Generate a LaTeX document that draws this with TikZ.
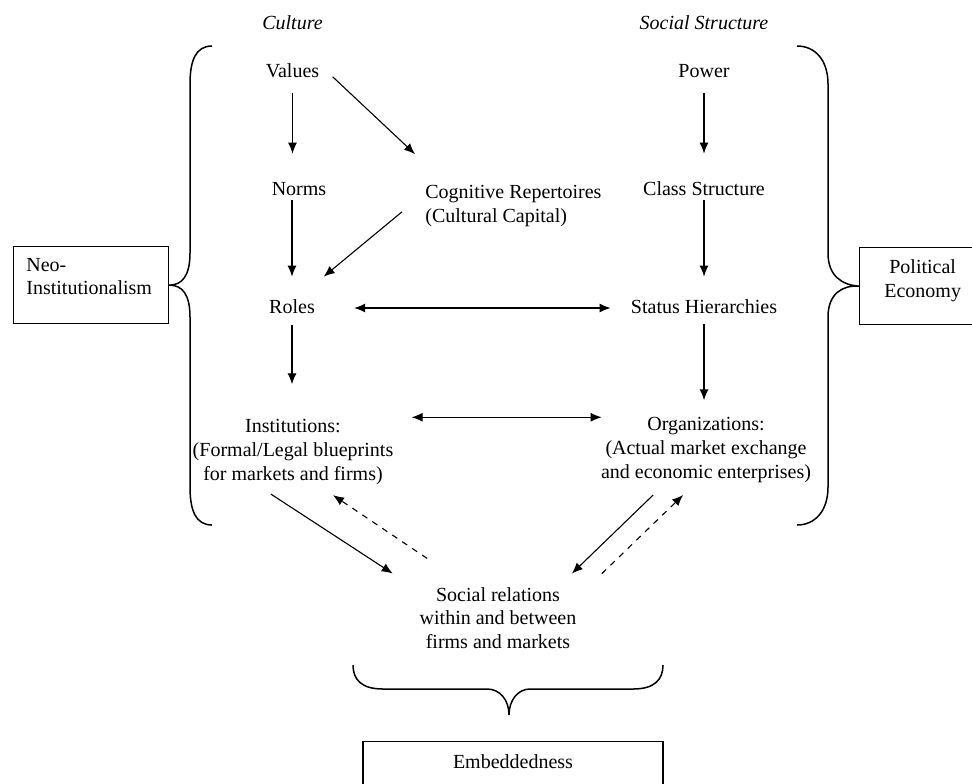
\documentclass[tikz,border=0pt]{standalone}
\usepackage{fontspec}
\setmainfont{Liberation Serif}
\usetikzlibrary{arrows.meta}

\begin{document}
\begin{tikzpicture}[x=0.5pt, y=-0.5pt,
    font=\fontsize{10}{11.8}\selectfont,
    every node/.style={inner sep=0pt},
    word/.style={text height=7pt, text depth=2pt},
    arr/.style={line width=0.55pt, -{Latex[length=5.5pt,width=4.5pt]}},
    dbl/.style={line width=0.55pt, {Latex[length=5.5pt,width=4.5pt]}-{Latex[length=5.5pt,width=4.5pt]}},
    bracestyle/.style={line width=0.75pt},
    textbox/.style={draw, line width=0.65pt}]
    \useasboundingbox (0,0) rectangle (972,783);
    \clip (0,0) rectangle (972,783);

    \node[word] (culture) at (292.5,24) {\textit{Culture}};
    \node[word] (socstr) at (704,24) {\textit{Social Structure}};
    \node[word] (values) at (292.5,72) {Values};
    \node[word] (norms) at (299,190) {Norms};
    \node[align=left, anchor=west] (cog) at (425,206) {Cognitive Repertoires\\(Cultural Capital)};
    \node[word] (roles) at (292,308) {Roles};
    \node[word] (power) at (704,72) {Power};
    \node[word] (class) at (704,190) {Class Structure};
    \node[word] (status) at (704,308) {Status Hierarchies};
    \node[align=center] (inst) at (293,452) {Institutions:\\(Formal/Legal blueprints\\for markets and firms)};
    \node[align=center] (org) at (706,450) {Organizations:\\(Actual market exchange\\and economic enterprises)};
    \node[align=center] (social) at (498,618) {Social relations\\within and between\\firms and markets};

    \node[textbox, minimum width=77.5pt, minimum height=38.5pt, anchor=north west] (neo) at (13,246) {};
    \node[align=left, anchor=north west] (neotext) at ([shift={(6.5pt,-5.8pt)}]neo.north west) {Neo-\\Institutionalism};
    \node[textbox, minimum width=63pt, minimum height=38.5pt, anchor=north west] (polit) at (859,247) {};
    \node[align=center, anchor=north] (polittext) at ([yshift=-6.1pt]polit.north) {Political\\Economy};
    \node[textbox, minimum width=150pt, minimum height=40pt, anchor=north] (embed) at (513,741) {};
    \node[word, anchor=north] (embedtext) at ([yshift=-6.5pt]embed.north) {Embeddedness};

    \draw[arr, shorten <=6pt, shorten >=13.5pt] (values.south) -- (values.south |- norms.north);
    \draw[arr, shorten <=3.5pt, shorten >=22.6pt] ([xshift=4pt]values.east) -- ([xshift=11.5pt]cog.north west);
    \draw[arr, shorten <=0.5pt, shorten >=11pt] (roles.north |- norms.south) -- (roles.north);
    \draw[arr, shorten <=4.6pt, shorten >=17.2pt] ([xshift=-8pt]cog.west) -- ([xshift=-9pt]roles.north east);
    \draw[arr, shorten <=4pt, shorten >=17.5pt] (roles.south) -- (roles.south |- inst.north);
    \draw[dbl, shorten <=19.5pt, shorten >=10pt] (roles.east) -- (status.west);
    \draw[dbl, shorten <=9pt, shorten >=-0.5pt] ([yshift=1pt]inst.north east) -- ([yshift=1pt]inst.north east -| org.north west);
    \draw[arr, shorten <=6pt, shorten >=13.5pt] (power.south) -- (power.south |- class.north);
    \draw[arr, shorten <=0.5pt, shorten >=11pt] (class.south) -- (class.south |- status.north);
    \draw[arr, shorten <=3.5pt, shorten >=8.5pt] (status.south) -- (status.south |- org.north);
    \draw[arr, shorten <=8.5pt, shorten >=12.3pt] ([xshift=-18.2pt]inst.south) -- ([xshift=-3pt]social.north west);
    \draw[arr, dashed, shorten <=25.6pt, shorten >=9.3pt] ([xshift=-14.2pt]social.north) -- ([xshift=12.3pt]inst.south);
    \draw[arr, shorten <=8.8pt, shorten >=9.6pt] ([xshift=-20.1pt]org.south) -- ([xshift=30pt]social.north);
    \draw[arr, dashed, shorten <=9.6pt, shorten >=8.8pt] ([xshift=45pt]social.north) -- ([xshift=-5.1pt]org.south);

    \draw[bracestyle] (212,46) .. controls (196,46) and (190,60) .. (190,84) -- (190,253)
        .. controls (190,276) and (182,285) .. (neo.east)
        .. controls (182,285) and (190,294) .. (190,317) -- (190,487)
        .. controls (190,511) and (196,525) .. (212,525);
    \draw[bracestyle] (797,46) .. controls (815,46) and (828,60) .. (828,84) -- (828,253)
        .. controls (828,276) and (842,285) .. (polit.west)
        .. controls (842,285) and (828,294) .. (828,317) -- (828,487)
        .. controls (828,511) and (815,525) .. (797,525);
    \draw[bracestyle] (353,665) .. controls (353,680) and (362,689) .. (383,689) -- (487,689)
        .. controls (500,689) and (509,700) .. (509,715)
        .. controls (509,700) and (518,689) .. (530,689) -- (633,689)
        .. controls (654,689) and (663,680) .. (663,665);
\end{tikzpicture}
\end{document}
